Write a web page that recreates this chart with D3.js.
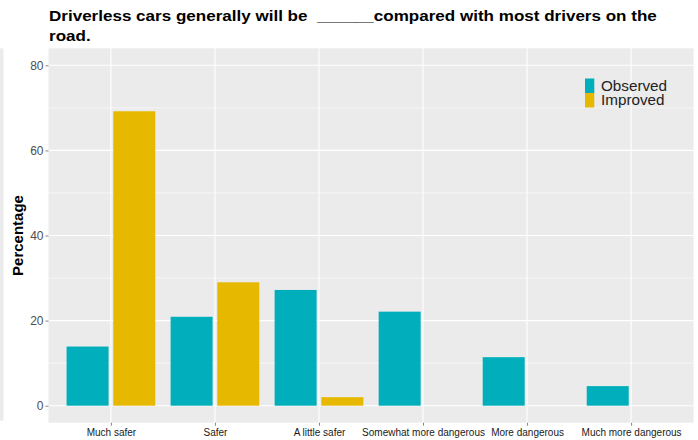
<!DOCTYPE html>
<html>
<head>
<meta charset="utf-8">
<script src="https://d3js.org/d3.v7.min.js"></script>
<style>
  body { margin: 0; background: #fff; }
  svg { display: block; font-family: "Liberation Sans", Arial, sans-serif; }
</style>
</head>
<body>
<svg id="chart" width="698" height="440"></svg>
<script>
// data
const categories = ["Much safer", "Safer", "A little safer", "Somewhat more dangerous", "More dangerous", "Much more dangerous"];
const seriesNames = ["Observed", "Improved"];
const observed = [13.9, 20.9, 27.2, 22.1, 11.4, 4.6];
const improved = [69.2, 29.0, 2.0, null, null, null];
const yTicks = [0, 20, 40, 60, 80];
const yMinor = [10, 30, 50, 70];
const colors = ["#00AFBB", "#E7B800"];

const svg = d3.select("#chart");
const panel = {left: 48.5, right: 693.5, top: 48.3, bottom: 422.7};

// discrete x with ggplot-like 0.6 expansion
const x = d3.scalePoint()
  .domain(categories)
  .range([panel.left, panel.right])
  .padding(0.6);
const barW = 42, barGap = 4.7;

const y = d3.scaleLinear()
  .domain([-4, 84])
  .range([panel.bottom, panel.top]);

// leftover sliver of a neighbouring panel at the far left
svg.append("rect")
  .attr("x", 0).attr("y", panel.top)
  .attr("width", 3.5).attr("height", panel.bottom - panel.top - 2)
  .attr("fill", "#EBEBEB");

// panel
svg.append("rect")
  .attr("x", panel.left).attr("y", panel.top)
  .attr("width", panel.right - panel.left).attr("height", panel.bottom - panel.top)
  .attr("fill", "#EBEBEB");

const grid = svg.append("g");
grid.selectAll(".minor")
  .data(yMinor)
  .join("line")
  .attr("x1", panel.left).attr("x2", panel.right)
  .attr("y1", d => y(d)).attr("y2", d => y(d))
  .attr("stroke", "#fff").attr("stroke-width", 0.6);
grid.selectAll(".major")
  .data(yTicks)
  .join("line")
  .attr("x1", panel.left).attr("x2", panel.right)
  .attr("y1", d => y(d)).attr("y2", d => y(d))
  .attr("stroke", "#fff").attr("stroke-width", 1.1);
grid.selectAll(".vmajor")
  .data(categories)
  .join("line")
  .attr("x1", d => x(d)).attr("x2", d => x(d))
  .attr("y1", panel.top).attr("y2", panel.bottom)
  .attr("stroke", "#fff").attr("stroke-width", 1.1);

// bars
const rows = [];
categories.forEach((c, i) => {
  [observed[i], improved[i]].forEach((v, k) => {
    if (v != null) rows.push({cat: c, k: k, value: v});
  });
});

svg.append("g").selectAll("rect")
  .data(rows)
  .join("rect")
  .attr("x", d => x(d.cat) + (d.k === 0 ? -barGap / 2 - barW : barGap / 2))
  .attr("width", barW)
  .attr("y", d => y(d.value))
  .attr("height", d => y(0) - y(d.value))
  .attr("fill", d => colors[d.k]);

// axes
const yAxis = svg.append("g")
  .attr("transform", `translate(${panel.left},0)`)
  .call(d3.axisLeft(y).tickValues(yTicks).tickSize(3).tickPadding(2));
yAxis.select(".domain").remove();
yAxis.selectAll(".tick line").attr("stroke", "#333").attr("stroke-width", 0.6);
yAxis.selectAll(".tick text")
  .attr("fill", "#4D4D4D")
  .style("font-size", "12px")
  .style("font-family", "'Liberation Sans', Arial, sans-serif");

const xAxis = svg.append("g")
  .attr("transform", `translate(0,${panel.bottom})`)
  .call(d3.axisBottom(x).tickSize(3).tickPadding(3));
xAxis.select(".domain").remove();
xAxis.selectAll(".tick line").attr("stroke", "#333").attr("stroke-width", 0.6);
xAxis.selectAll(".tick text")
  .attr("fill", "#1a1a1a")
  .style("font-size", "10px")
  .style("font-family", "'Liberation Sans', Arial, sans-serif");

// y axis title
svg.append("text")
  .attr("transform", `translate(23,${(panel.top + panel.bottom) / 2}) rotate(-90)`)
  .attr("text-anchor", "middle")
  .style("font-size", "15px")
  .style("font-weight", "bold")
  .attr("fill", "#000")
  .text("Percentage");

// title, stretched a bit wide like the picture
const titleG = svg.append("g");
const title = titleG.append("text")
  .style("font-size", "15px")
  .style("font-weight", "bold")
  .style("white-space", "pre")
  .attr("fill", "#000");
const line1 = title.append("tspan").attr("x", 0).attr("y", 21.3)
  .text("Driverless cars generally will be  ______compared with most drivers on the");
title.append("tspan").attr("x", 0).attr("y", 40.7)
  .text("road.");
const sx = 608 / line1.node().getComputedTextLength();
titleG.attr("transform", `translate(49,0) scale(${sx},1)`);

// legend
const keyH = 14.5;
const legend = svg.append("g").attr("transform", "translate(585,78.5)");
seriesNames.forEach((s, k) => {
  legend.append("rect")
    .attr("x", 0).attr("y", k * keyH)
    .attr("width", 9.3).attr("height", keyH)
    .attr("fill", colors[k]);
  const t = legend.append("text")
    .attr("y", k * keyH + 12)
    .style("font-size", "14px")
    .attr("fill", "#222")
    .text(s);
  // widen a touch to match the picture's wide glyphs
  t.attr("transform", "translate(16,0) scale(1.09,1)");
});
</script>
</body>
</html>
